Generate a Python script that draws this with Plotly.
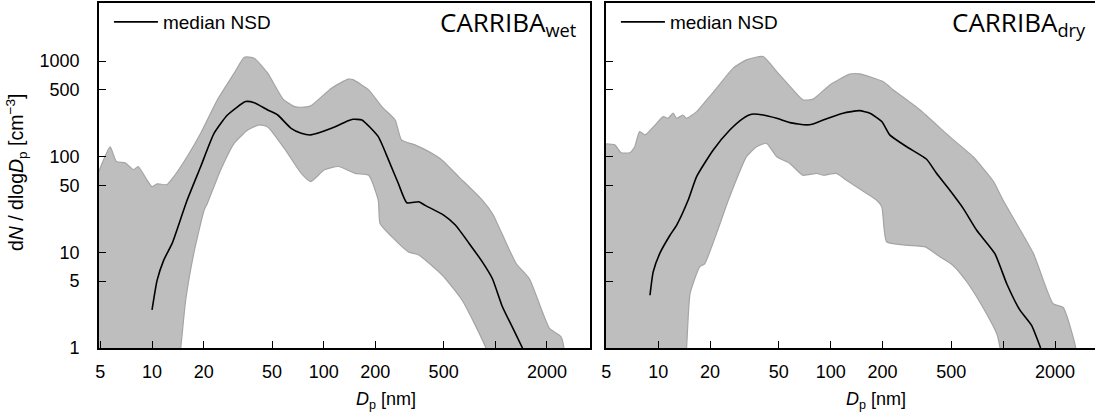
import plotly.graph_objects as go

# ---- CARRIBA wet season: number size distribution (dN/dlogDp, cm^-3) ----
wet_upper_dp = [4.85, 5.7, 6.2, 7.0, 7.8, 8.3, 9.35, 10.0, 10.7, 12.2, 13.4, 16.0, 19.2, 24.0,
                30.1, 34.5, 39.4, 47.2, 58, 67.6, 74, 84, 111, 139, 148, 183, 218, 261,
                284, 340, 410, 490, 611, 842, 962, 1320, 1580, 2070, 2420, 2550]
wet_upper = [67, 127, 89, 86, 73, 79, 57, 48.5, 52, 51, 62, 100, 176, 392,
             747, 1097, 1070, 747, 400, 334, 329, 340, 520, 647, 640, 499, 334, 242,
             150, 133, 113, 92, 62, 35, 25.5, 7.7, 5.3, 1.6, 1.3, 0.5]

wet_lower_dp = [4.85, 14.0, 14.7, 15.7, 17.5, 20.1, 21.0, 25.1, 30.1, 36.1, 42.2, 47.2, 59, 74,
                84, 101, 122, 152, 183, 208, 213, 250, 312, 358, 490, 641, 881, 960]
wet_lower = [0.5, 0.5, 1.0, 3.16, 9.7, 27.6, 32.5, 72.6, 138, 190, 215, 205, 122, 67,
             55, 73, 79, 67, 64, 35, 20, 14.5, 10.1, 9.4, 5.8, 3.16, 1.0, 0.5]

wet_median_dp = [10.0, 10.7, 11.7, 13.1, 14.6, 16.0, 19.2, 23.0, 27.5, 35.1, 39.4, 47.2, 54,
                 64.6, 74, 84, 111, 139, 148, 167, 208, 239, 272, 305, 358, 390, 500, 585,
                 704, 842, 962, 1100, 1255, 1440]
wet_median = [2.5, 5.1, 8.3, 12.4, 21.7, 35, 78.6, 176, 273, 377, 367, 308, 273,
              198, 176, 169, 198, 238, 246, 242, 162, 92, 52.7, 33, 33.8, 31, 24.5, 19.3,
              12.4, 7.9, 5.3, 2.7, 1.66, 1.0]

# ---- CARRIBA dry season ----
dry_upper_dp = [4.9, 5.6, 6.1, 6.85, 7.3, 7.8, 8.4, 9.4, 10.7, 11.4, 12.2, 12.8, 13.9, 14.6,
                16.7, 19.1, 21.8, 27.2, 32.5, 40.6, 48.7, 60.6, 69.3, 79.1, 99, 129, 147,
                201, 231, 330, 490, 670, 880, 1000, 1500, 1950, 2230, 2640, 2700]
dry_upper = [136, 133, 110, 110, 127, 183, 169, 206, 262, 252, 285, 252, 273, 252,
             296, 392, 520, 843, 1030, 1115, 776, 499, 392, 400, 563, 730, 735,
             610, 499, 308, 162, 100, 55, 35, 9.7, 2.9, 2.65, 1.0, 0.5]

dry_lower_dp = [4.9, 14.0, 14.6, 15.3, 17.4, 18.6, 21.8, 25.5, 32.5, 37.2, 42.5, 48.7, 58, 69,
                83, 90.5, 108, 123, 150, 185, 198, 211, 275, 354, 430, 513, 617, 760,
                920, 960, 1000]
dry_lower = [0.5, 0.5, 1.0, 3.7, 7.05, 7.6, 15.8, 35, 100, 127, 138, 100, 85, 64,
             67, 64, 67, 57, 45, 35, 30, 12.9, 11.9, 11.4, 9, 7.3, 4.9, 2.7,
             1.4, 1.0, 0.5]

dry_median_dp = [8.96, 9.35, 10.2, 11.7, 12.8, 14.9, 16.7, 20.8, 26.0, 31.1, 34.8, 40.6, 48.7,
                 58, 72.6, 79, 90.5, 118, 147, 169, 198, 220, 276, 360, 411, 490, 587, 703,
                 896, 1050, 1250, 1460, 1650]
dry_median = [3.56, 6.25, 9.7, 15.1, 19.3, 35, 62, 117, 190, 252, 278, 273, 252,
              227, 215, 220, 242, 285, 303, 285, 233, 169, 127, 94, 67, 44.8, 28.8, 17,
              9.7, 4.7, 2.5, 1.73, 1.0]

# labelled x ticks, plus an unlabelled tick at 1000 nm
x_tickvals = [5, 10, 20, 50, 100, 200, 500, 2000]
x_ticktext = ["5", "10", "20", "50", "100", "200", "500", "2000"]
x_bare_ticks = [1000]
y_tickvals = [1, 5, 10, 50, 100, 500, 1000]
y_ticktext = ["1", "5", "10", "50", "100", "500", "1000"]

FILL = "#bebebe"
EDGE = "#a4a4a4"
SANS = "Liberation Sans, Arial, sans-serif"
TICKFONT = dict(family=SANS, size=18, color="black")

fig = go.Figure()


def band(dp_up, up, dp_lo, lo, xa, ya):
    # closed polygon: upper bound left->right, lower bound right->left
    return go.Scatter(
        x=list(dp_up) + list(dp_lo)[::-1],
        y=list(up) + list(lo)[::-1],
        mode="lines", fill="toself", fillcolor=FILL,
        line=dict(color=EDGE, width=1.2, shape="spline", smoothing=0.5),
        showlegend=False, hoverinfo="skip", xaxis=xa, yaxis=ya,
    )


def median(dp, vals, xa, ya, leg):
    return go.Scatter(x=dp, y=vals, mode="lines",
                      line=dict(color="black", width=1.6, shape="spline", smoothing=0.5),
                      name="median NSD", xaxis=xa, yaxis=ya, legend=leg)


fig.add_trace(band(wet_upper_dp, wet_upper, wet_lower_dp, wet_lower, "x", "y"))
fig.add_trace(median(wet_median_dp, wet_median, "x", "y", "legend"))
fig.add_trace(band(dry_upper_dp, dry_upper, dry_lower_dp, dry_lower, "x2", "y2"))
fig.add_trace(median(dry_median_dp, dry_median, "x2", "y2", "legend2"))

xcommon = dict(type="log", tickvals=x_tickvals, ticktext=x_ticktext, ticks="inside",
               ticklen=7, tickwidth=1.3, tickcolor="black", showline=True, linecolor="black",
               linewidth=1.6, mirror=True, showgrid=False, zeroline=False, tickfont=TICKFONT,
               ticklabelstandoff=7,
               minor=dict(tickvals=x_bare_ticks, ticks="inside", ticklen=7, tickwidth=1.3,
                          tickcolor="black", showgrid=False))
ycommon = dict(type="log", range=[0, 3.607], tickvals=y_tickvals, ticktext=y_ticktext,
               ticks="inside", ticklen=7, tickwidth=1.3, tickcolor="black", showline=True,
               linecolor="black", linewidth=1.6, showgrid=False, zeroline=False,
               tickfont=TICKFONT, ticklabelstandoff=14)

legend_style = dict(bgcolor="rgba(0,0,0,0)", borderwidth=0, itemwidth=44,
                    font=dict(family=SANS, size=19, color="black"),
                    xanchor="left", yanchor="top", yref="paper", xref="paper")

fig.update_layout(
    width=1095, height=417,
    margin=dict(l=99, r=0, t=3, b=69),
    paper_bgcolor="white", plot_bgcolor="white",
    xaxis=dict(domain=[0, 0.4925], range=[0.691, 3.549], anchor="y", **xcommon),
    yaxis=dict(domain=[0, 1], anchor="x", mirror=True, **ycommon),
    xaxis2=dict(domain=[0.509, 1], range=[0.697, 3.533], anchor="y2", **xcommon),
    yaxis2=dict(domain=[0, 1], anchor="x2", mirror=False, showticklabels=False, **ycommon),
    legend=dict(x=0.010, y=1.0, **legend_style),
    legend2=dict(x=0.519, y=1.0, **legend_style),
    showlegend=True,
)

ann_font = dict(family="Open Sans, DejaVu Sans, sans-serif", size=26, color="black")
fig.add_annotation(text="CARRIBA<sub>wet</sub>", xref="paper", yref="paper",
                   x=0.481, y=1.0, xanchor="right", yanchor="top", showarrow=False,
                   borderpad=0, font=ann_font)
fig.add_annotation(text="CARRIBA<sub>dry</sub>", xref="paper", yref="paper",
                   x=0.992, y=1.0, xanchor="right", yanchor="top", showarrow=False,
                   borderpad=0, font=ann_font)

fig.add_annotation(text="d<i>N</i> / dlog<i>D</i><sub>p</sub> [cm<sup>−3</sup>]",
                   xref="paper", yref="paper", x=-0.0833, y=0.51, textangle=-90,
                   xanchor="center", yanchor="middle", showarrow=False,
                   font=dict(family=SANS, size=19.5, color="black"))
for xp in (0.288, 0.78):
    fig.add_annotation(text="<i>D</i><sub>p</sub> [nm]", xref="paper", yref="paper",
                       x=xp, y=-0.152, xanchor="center", yanchor="middle",
                       showarrow=False, font=dict(family=SANS, size=18, color="black"))

fig.write_html("out.html")
